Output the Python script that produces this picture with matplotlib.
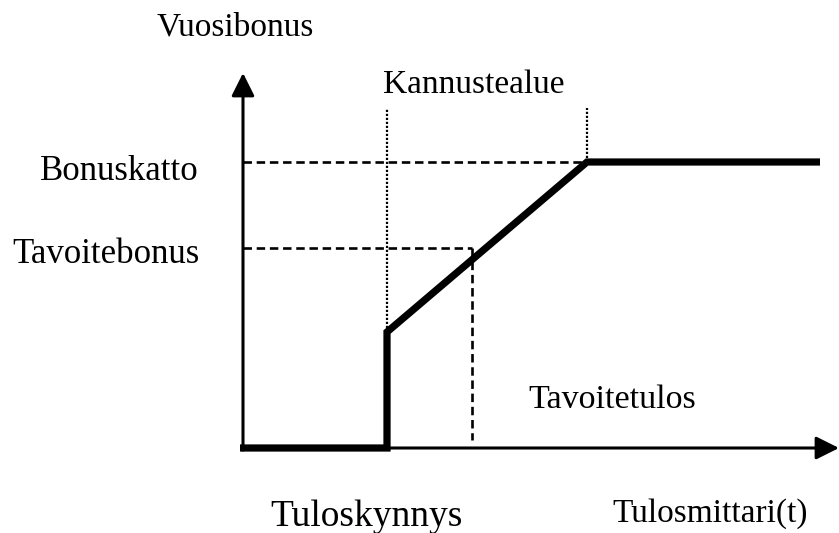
import matplotlib.pyplot as plt

# diagram units: origin at the corner of the axes
threshold = 144      # Tuloskynnys
target = 229         # Tavoitetulos
cap_x = 344          # where the bonus cap is reached
x_end = 577
bonus_at_threshold = 116
target_bonus = 200   # Tavoitebonus
bonus_cap = 286      # Bonuskatto
zone_top = 340       # top of the dotted Kannustealue lines

result_x = [-3, threshold, threshold, cap_x, x_end]
bonus_y = [0, 0, bonus_at_threshold, bonus_cap, bonus_cap]

plt.rcParams['font.family'] = ['Liberation Serif', 'DejaVu Serif']

fig = plt.figure(figsize=(8.39, 5.33), dpi=100)
ax = fig.add_axes([0, 0, 1, 1])
ax.set_xlim(-243, 596)
ax.set_ylim(-85, 448)
ax.axis('off')

# axes with arrows
arrow = dict(arrowstyle='-|>,head_length=1.0,head_width=0.5', lw=2.2,
             color='black', mutation_scale=14, shrinkA=0, shrinkB=0)
ax.annotate('', xy=(596, 0), xytext=(0, 0), arrowprops=arrow)
ax.annotate('', xy=(0, 375), xytext=(0, -2), arrowprops=arrow)

# guide lines
dash = (0, (3.2, 1.8))
ax.plot([0, cap_x], [bonus_cap, bonus_cap], color='black', lw=1.9, ls=dash)
ax.plot([0, target], [target_bonus, target_bonus], color='black', lw=1.9, ls=dash)
ax.plot([target, target], [target_bonus, 8], color='black', lw=1.9, ls=dash)
ax.plot([threshold, threshold], [bonus_at_threshold, zone_top], color='black', lw=1.6, ls=(0, (1, 0.8)))
ax.plot([cap_x, cap_x], [bonus_cap, zone_top], color='black', lw=1.6, ls=(0, (1, 0.8)))

# bonus curve
ax.plot(result_x, bonus_y, color='black', lw=5.2, solid_joinstyle='miter', solid_capstyle='butt')

# labels
ax.text(-86, 413, 'Vuosibonus', fontsize=24, va='baseline', ha='left')
ax.text(140, 355, 'Kannustealue', fontsize=24, va='baseline', ha='left')
ax.text(-203, 268, 'Bonuskatto', fontsize=25, va='baseline', ha='left')
ax.text(-231, 185, 'Tavoitebonus', fontsize=25, va='baseline', ha='left')
ax.text(285, 40, 'Tavoitetulos', fontsize=24.5, va='baseline', ha='left')
ax.text(27, -78, 'Tuloskynnys', fontsize=27, va='baseline', ha='left')
ax.text(369, -74, 'Tulosmittari(t)', fontsize=24, va='baseline', ha='left')

plt.savefig('out.png', dpi=100)
plt.close()
